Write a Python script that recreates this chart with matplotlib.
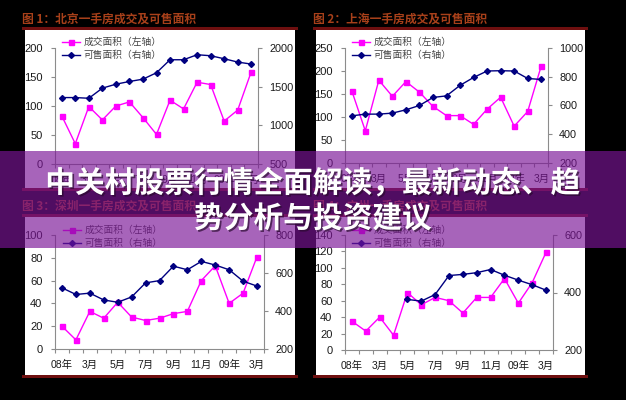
import matplotlib.pyplot as plt
import matplotlib.patheffects as pe
from matplotlib.patches import Rectangle
import numpy as np

plt.rcParams['font.family'] = ['Liberation Sans', 'Noto Sans CJK SC']

# monthly data, Jan 2008 - Mar 2009
x_labels = ['08年', '3月', '5月', '7月', '9月', '11月', '09年', '3月']
label_pos = [0, 2, 4, 6, 8, 10, 12, 14]

tl_deal = [83, 35, 99, 76, 100, 107, 80, 51, 110, 95, 141, 137, 74, 93, 159]
tl_avail = [1359, 1359, 1350, 1481, 1532, 1567, 1597, 1680, 1848, 1848, 1913, 1900, 1861, 1818, 1792]
tr_deal = [157, 70, 180, 145, 177, 154, 123, 103, 103, 84, 117, 143, 80, 112, 211]
tr_avail = [528, 540, 540, 547, 570, 600, 656, 667, 740, 795, 840, 842, 840, 788, 781]
bl_deal = [20, 8, 33, 27, 41, 28, 25, 27, 31, 33, 60, 73, 40, 49, 81]
bl_avail = [522, 487, 494, 458, 446, 474, 548, 560, 636, 617, 661, 642, 617, 557, 531]
br_deal = [35, 23, 40, 18, 70, 55, 64, 60, 45, 64, 64, 87, 57, 82, 119]
br_avail = [np.nan, np.nan, np.nan, np.nan, 376, 370, 393, 459, 463, 469, 480, 460, 443, 427, 408]

titles = ['图 1：北京一手房成交及可售面积', '图 2：上海一手房成交及可售面积',
          '图 3：深圳一手房成交及可售面积', '图 4：广州一手房成交及可售面积']
headline = '中关村股票行情全面解读，最新动态、趋\n势分析与投资建议'

W, H = 626, 400
RED = '#6e0f0f'
GRAY = '#8c8c8c'

fig = plt.figure(figsize=(W / 100, H / 100), dpi=100, facecolor='black')


def fx(x):
    return x / W


def fy(y):
    return 1 - y / H


def add_box(x0, y0, x1, y1, color, z, alpha=1.0):
    fig.add_artist(Rectangle((fx(x0), fy(y1)), (x1 - x0) / W, (y1 - y0) / H,
                             transform=fig.transFigure, facecolor=color,
                             edgecolor='none', zorder=z, alpha=alpha))


def draw_panel(title, white, axpx, deal, avail, lticks, rticks, leg_xy):
    x0, y0, x1, y1 = white
    add_box(x0, y0, x1, y1, 'white', -3)
    add_box(x0 - 3, y0 - 3, x1 + 3, y0, RED, -2)
    add_box(x0 - 3, y1, x1 + 3, y1 + 3, RED, -2)
    fig.text(fx(x0 - 3), fy(y0 - 11), title, fontsize=8.5, fontweight='bold',
             color='#a8401a', va='center', ha='left', family=['Noto Sans CJK SC'])

    ax = fig.add_axes([fx(axpx[0]), fy(axpx[3]), (axpx[2] - axpx[0]) / W,
                       (axpx[3] - axpx[1]) / H])
    ax2 = ax.twinx()
    x = np.arange(len(deal))
    l1, = ax.plot(x, deal, color='#ff00ff', lw=1, marker='s', ms=3.6,
                  label='成交面积（左轴）')
    l2, = ax2.plot(x, avail, color='#000080', lw=1, marker='D', ms=3.0,
                   label='可售面积（右轴）')

    ax.set_xlim(-0.5, len(deal) - 0.5)
    ax.set_ylim(lticks[0], lticks[-1])
    ax.set_yticks(lticks)
    ax2.set_ylim(rticks[0], rticks[-1])
    ax2.set_yticks(rticks)
    ax.set_xticks(label_pos)
    ax.set_xticklabels(x_labels)
    ax.set_xticks(np.arange(-0.5, len(deal), 1.0), minor=True)

    for a in (ax, ax2):
        a.set_facecolor('none')
        a.spines['top'].set_visible(False)
        for s in a.spines.values():
            s.set_color(GRAY)
            s.set_linewidth(0.8)
    ax.spines['right'].set_visible(False)
    ax2.spines['left'].set_visible(False)
    ax2.spines['bottom'].set_visible(False)

    ax.tick_params(axis='y', length=3, width=0.8, color=GRAY, pad=6,
                   labelsize=8, labelcolor='#1a1a1a')
    ax2.tick_params(axis='y', length=3, width=0.8, color=GRAY, pad=5,
                    labelsize=7.8, labelcolor='#1a1a1a')
    ax.tick_params(axis='x', which='major', length=0, pad=8,
                   labelsize=7.5, labelcolor='#1a1a1a')
    ax.tick_params(axis='x', which='minor', length=3, width=0.8, color=GRAY)

    ax2.legend([l1, l2], [l1.get_label(), l2.get_label()], loc='upper left',
               bbox_to_anchor=(fx(leg_xy[0]), fy(leg_xy[1])),
               bbox_transform=fig.transFigure, frameon=False, fontsize=7,
               handlelength=1.9, handletextpad=0.35, labelspacing=0.3,
               borderpad=0, borderaxespad=0, labelcolor='#444444')


draw_panel(titles[0], (25, 30, 295, 188), (55, 48, 258, 164), tl_deal, tl_avail,
           [0, 50, 100, 150, 200], [500, 1000, 1500, 2000], (62, 37))
draw_panel(titles[1], (316, 30, 585, 188), (345, 48, 548, 163), tr_deal, tr_avail,
           [0, 50, 100, 150, 200, 250], [200, 400, 600, 800, 1000], (352, 37))
draw_panel(titles[2], (25, 217, 295, 375), (55, 235, 264, 349), bl_deal, bl_avail,
           [0, 20, 40, 60, 80, 100], [200, 400, 600, 800], (63, 225))
draw_panel(titles[3], (316, 217, 585, 375), (345, 235, 553, 350), br_deal, br_avail,
           [0, 20, 40, 60, 80, 100, 120, 140], [200, 400, 600], (352, 225))

# purple banner with headline
add_box(0, 151, W, 248, '#7a1496', 5, alpha=0.66)
fig.text(0.5, fy(201), headline, ha='center', va='center', fontsize=21.4,
         fontweight='bold', color='white', linespacing=1.22,
         family=['Noto Sans CJK SC'], zorder=6,
         path_effects=[pe.withSimplePatchShadow(offset=(1.2, -1.2),
                                                shadow_rgbFace='#2a0a30', alpha=0.7)])

fig.savefig('out.png', dpi=100, facecolor='black')
